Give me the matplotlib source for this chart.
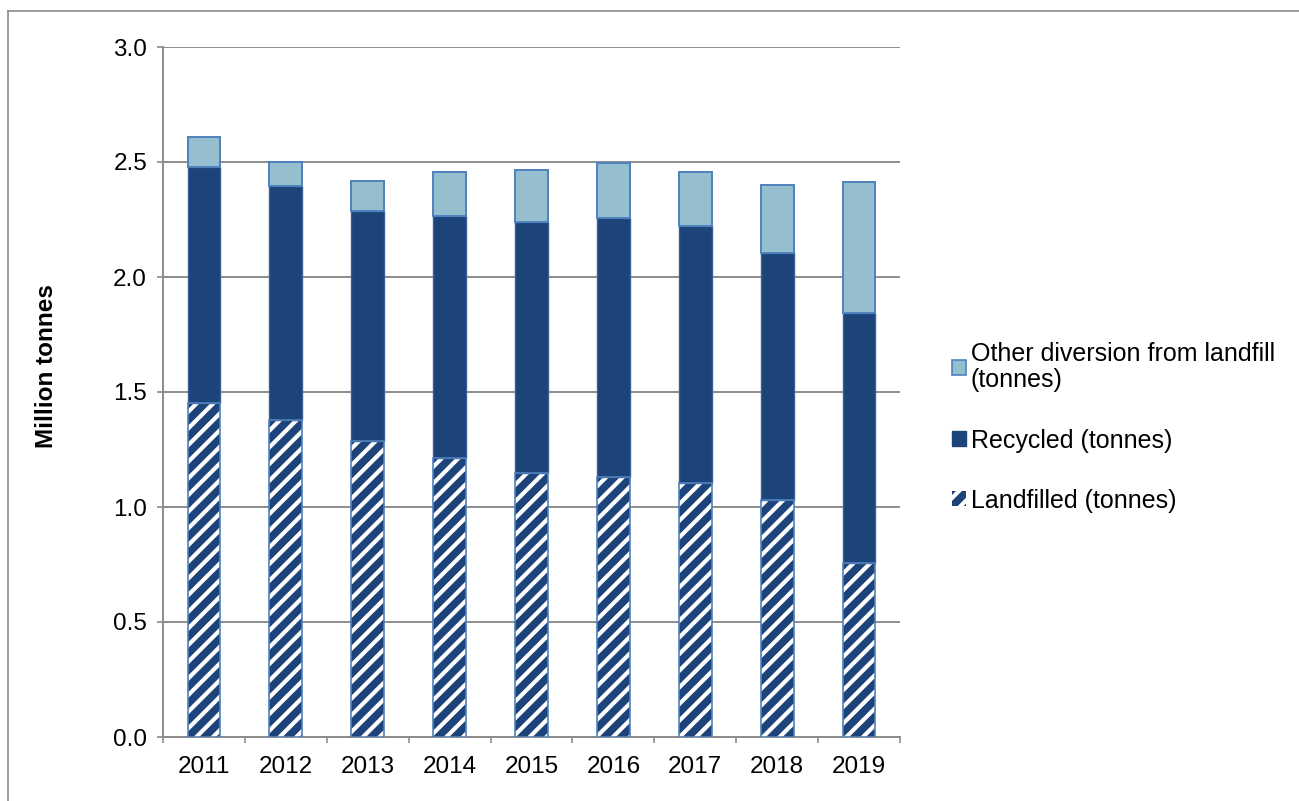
import numpy as np
import matplotlib.pyplot as plt
from matplotlib.patches import Patch
from matplotlib.lines import Line2D

plt.rcParams['font.family'] = ['Liberation Sans', 'DejaVu Sans']
plt.rcParams['hatch.linewidth'] = 3.0

# Waste totals by year, million tonnes
years = ['2011', '2012', '2013', '2014', '2015', '2016', '2017', '2018', '2019']
landfilled = [1.453, 1.378, 1.289, 1.212, 1.146, 1.129, 1.106, 1.030, 0.755]
recycled_top = [2.478, 2.396, 2.287, 2.265, 2.240, 2.255, 2.222, 2.106, 1.842]
total = [2.609, 2.500, 2.417, 2.457, 2.465, 2.497, 2.457, 2.400, 2.414]

landfilled = np.array(landfilled)
recycled = np.array(recycled_top) - landfilled
other = np.array(total) - np.array(recycled_top)

navy = '#1C437A'
light = '#95BFCF'
edge_blue = '#4F81BD'
grey = '#8C8C8C'

fig = plt.figure(figsize=(12.99, 8.01), dpi=100)
ax = fig.add_axes([163 / 1299, 1 - 737 / 801, (900 - 163) / 1299, (737 - 47) / 801])

x = np.arange(len(years))
w = 0.4

# landfilled: navy with white diagonal stripes, then a blue outline on top
ax.bar(x, landfilled, w, color=navy, edgecolor='white', hatch='//', linewidth=0, zorder=3)
ax.bar(x, landfilled, w, fill=False, edgecolor=edge_blue, linewidth=1.2, zorder=4)
ax.bar(x, recycled, w, bottom=landfilled, color=navy, edgecolor='#3A5F94', linewidth=1.0, zorder=3)
ax.bar(x, other, w, bottom=landfilled + recycled, color=light, edgecolor=edge_blue, linewidth=1.4, zorder=3)

ax.set_xlim(-0.5, len(years) - 0.5)
ax.set_ylim(0, 3.0)
ax.set_yticks(np.arange(0, 3.01, 0.5))
ax.set_yticklabels([f'{v:.1f}' for v in np.arange(0, 3.01, 0.5)])
ax.set_xticks(x)
ax.set_xticklabels(years)
ax.set_xticks(np.arange(-0.5, len(years)), minor=True)

ax.yaxis.grid(True, color=grey, linewidth=1.4, zorder=0)
ax.set_axisbelow(True)
for side in ['top', 'right']:
    ax.spines[side].set_visible(False)
for side in ['left', 'bottom']:
    ax.spines[side].set_color(grey)
    ax.spines[side].set_linewidth(1.4)

ax.tick_params(axis='y', length=4.5, width=1.2, color=grey, pad=7, labelsize=17.5)
ax.tick_params(axis='x', which='major', length=0, pad=14, labelsize=17.5)
ax.tick_params(axis='x', which='minor', length=4.5, width=1.2, color=grey)

fig.text(47 / 1299, 1 - 366 / 801, 'Million tonnes', rotation=90, fontsize=17.5,
         fontweight='bold', ha='center', va='center')

handles = [
    Patch(facecolor=light, edgecolor=edge_blue, linewidth=1.2),
    Patch(facecolor=navy, edgecolor=navy, linewidth=1.0),
    Patch(facecolor=navy, edgecolor='white', hatch='//', linewidth=0),
]
labels = ['Other diversion from landfill\n(tonnes)', 'Recycled (tonnes)', 'Landfilled (tonnes)']
leg = fig.legend(handles, labels, loc='upper left', bbox_to_anchor=(952 / 1299, 1 - 342 / 801),
                 frameon=False, fontsize=18, borderpad=0, borderaxespad=0,
                 handlelength=0.55, handleheight=0.55, handletextpad=0.2, labelspacing=1.45)
for t in leg.get_texts():
    t.set_linespacing(1.12)

# outer chart border
fig.add_artist(Line2D([7.5 / 1299, 7.5 / 1299], [0, 1 - 11 / 801], transform=fig.transFigure,
                      color=grey, linewidth=1.2))
fig.add_artist(Line2D([7.5 / 1299, 1], [1 - 11 / 801, 1 - 11 / 801], transform=fig.transFigure,
                      color=grey, linewidth=1.2))

fig.savefig('out.png', dpi=100)
